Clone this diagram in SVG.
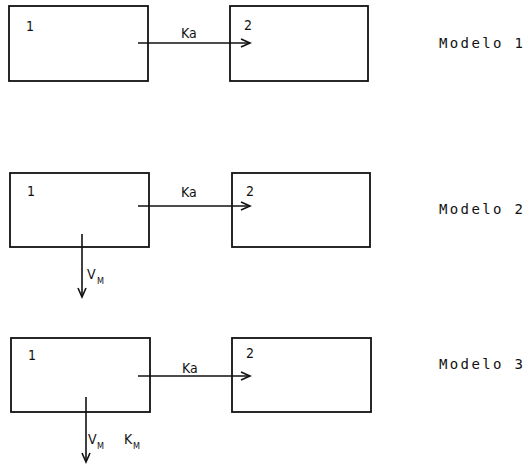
<svg xmlns="http://www.w3.org/2000/svg" width="526" height="465" viewBox="0 0 526 465">
<defs>
<marker id="ah" markerWidth="12" markerHeight="10" refX="10" refY="5" orient="auto" markerUnits="userSpaceOnUse">
<polyline points="1,1 10,5 1,9" fill="none" stroke="#111" stroke-width="1.6"/>
</marker>
<style>
.box{fill:#fff;stroke:#111;stroke-width:1.8}
.t{font-family:"DejaVu Sans Condensed","DejaVu Sans",sans-serif;font-size:14px;fill:#111}
.m{font-family:"DejaVu Sans Mono","Liberation Mono",monospace;font-size:14px;fill:#111}
.s{font-family:"DejaVu Sans Condensed","DejaVu Sans",sans-serif;font-size:9px;fill:#111}
.c{stroke:#111;stroke-width:1.6;fill:none;marker-end:url(#ah)}
</style>
</defs>
<rect width="526" height="465" fill="#fff"/>
<g id="m1-c1"><rect class="box" x="9" y="6" width="139" height="75"/><text class="t" x="26" y="31">1</text></g>
<g id="m1-c2"><rect class="box" x="230" y="6" width="138" height="75"/><text class="t" x="244" y="30">2</text></g>
<g id="m2-c1"><rect class="box" x="10" y="173" width="139" height="74"/><text class="t" x="27" y="196">1</text></g>
<g id="m2-c2"><rect class="box" x="232" y="173" width="138" height="74"/><text class="t" x="246" y="196">2</text></g>
<g id="m3-c1"><rect class="box" x="11" y="338" width="139" height="74"/><text class="t" x="28" y="360">1</text></g>
<g id="m3-c2"><rect class="box" x="232" y="338" width="139" height="74"/><text class="t" x="246" y="358">2</text></g>
<g id="labels">
<text class="m" x="439" y="48" textLength="84">Modelo 1</text>
<text class="m" x="439" y="214" textLength="84">Modelo 2</text>
<text class="m" x="439" y="369" textLength="84">Modelo 3</text>
</g>
<g id="connectors">
<line class="c" x1="138" y1="43" x2="250" y2="43"/>
<text class="t" x="181" y="38">Ka</text>
<line class="c" x1="138" y1="206" x2="250" y2="206"/>
<text class="t" x="181" y="197">Ka</text>
<line class="c" x1="82" y1="234" x2="82" y2="297"/>
<text class="t" x="87" y="279">V</text><text class="s" x="97" y="284">M</text>
<line class="c" x1="138" y1="376" x2="250" y2="376"/>
<text class="t" x="182" y="373">Ka</text>
<line class="c" x1="86" y1="397" x2="86" y2="462"/>
<text class="t" x="88" y="444">V</text><text class="s" x="97" y="449">M</text>
<text class="t" x="124" y="444">K</text><text class="s" x="133" y="449">M</text>
</g>
</svg>
